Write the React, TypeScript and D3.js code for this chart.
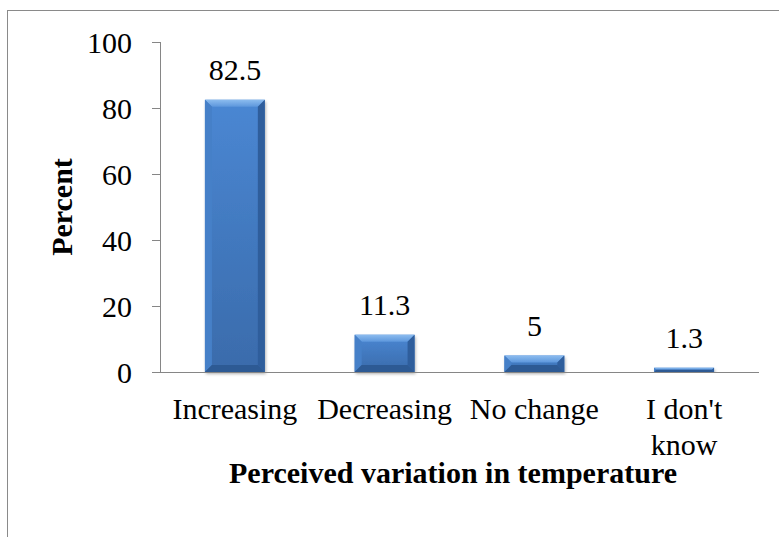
import { scaleBand, scaleLinear } from 'd3'

const categories = ['Increasing', 'Decreasing', 'No change', "I don't know"]
const categoryLines = [['Increasing'], ['Decreasing'], ['No change'], ["I don't", 'know']]
const percentValues = [82.5, 11.3, 5, 1.3]
const valueLabels = ['82.5', '11.3', '5', '1.3']
const yTicks = [0, 20, 40, 60, 80, 100]

const width = 779
const height = 537
const plot = { left: 160, right: 759, top: 42, bottom: 372 }
const fontFamily = "'Liberation Serif', 'Times New Roman', serif"
const axisColor = '#868686'
const textStyle = { fontFamily, fontSize: '30px', fontWeight: 400 }

export default function App() {
  const xScale = scaleBand<string>()
    .domain(categories)
    .range([plot.left, plot.right])
    .paddingInner(0.6)
    .paddingOuter(0.3)
  const yScale = scaleLinear().domain([0, 100]).range([plot.bottom, plot.top])
  const bandWidth = xScale.bandwidth()

  return (
    <svg
      width={width}
      height={height}
      viewBox={`0 0 ${width} ${height}`}
      style={{ position: 'absolute', left: 0, top: 0, background: '#fff' }}
    >
      <defs>
        <linearGradient id="barBody" x1="0" y1="0" x2="0" y2="1">
          <stop offset="0" stopColor="#4a87d3" />
          <stop offset="1" stopColor="#3a6bab" />
        </linearGradient>
        <linearGradient id="barTop" x1="0" y1="0" x2="0" y2="1">
          <stop offset="0" stopColor="#8cbcef" />
          <stop offset="1" stopColor="#5d97dc" />
        </linearGradient>
        <filter id="barShadow" x="-20%" y="-20%" width="140%" height="140%">
          <feDropShadow dx="1" dy="2" stdDeviation="1.5" floodColor="#000" floodOpacity="0.3" />
        </filter>
      </defs>

      <rect x={7.5} y={10.5} width={width + 20} height={height + 20} fill="none" stroke="#8a8a8a" strokeWidth={1} />

      {/* y axis */}
      <line x1={plot.left + 0.5} x2={plot.left + 0.5} y1={plot.top} y2={plot.bottom} stroke={axisColor} />
      {yTicks.map((tick) => (
        <g key={tick}>
          <line x1={plot.left - 8} x2={plot.left} y1={yScale(tick) + 0.5} y2={yScale(tick) + 0.5} stroke={axisColor} />
          <text x={plot.left - 28} y={yScale(tick)} dy="0.35em" textAnchor="end" style={textStyle} fill="#000">
            {tick}
          </text>
        </g>
      ))}

      {/* bars */}
      {categories.map((category, index) => {
        const x0 = xScale(category) ?? 0
        const x1 = x0 + bandWidth
        const y0 = yScale(percentValues[index])
        const y1 = yScale(0)
        const b = Math.min(7, (y1 - y0) / 2)
        return (
          <g key={category}>
            <rect x={x0} y={y0} width={bandWidth} height={y1 - y0} fill="url(#barBody)" filter="url(#barShadow)" />
            <polygon points={`${x0},${y0} ${x1},${y0} ${x1 - b},${y0 + b} ${x0 + b},${y0 + b}`} fill="url(#barTop)" />
            <polygon points={`${x0},${y0} ${x0 + b},${y0 + b} ${x0 + b},${y1 - b} ${x0},${y1}`} fill="#4680c8" />
            <polygon points={`${x1},${y0} ${x1 - b},${y0 + b} ${x1 - b},${y1 - b} ${x1},${y1}`} fill="#2f5e9c" />
            <polygon points={`${x0},${y1} ${x0 + b},${y1 - b} ${x1 - b},${y1 - b} ${x1},${y1}`} fill="#2d5a94" />
            <text x={x0 + bandWidth / 2} y={y0 - 20} textAnchor="middle" style={textStyle} fill="#000">
              {valueLabels[index]}
            </text>
          </g>
        )
      })}

      {/* x axis */}
      <line x1={plot.left - 8} x2={plot.right} y1={plot.bottom + 0.5} y2={plot.bottom + 0.5} stroke={axisColor} />
      {categories.map((category, index) => (
        <text
          key={category}
          x={(xScale(category) ?? 0) + bandWidth / 2}
          y={419}
          textAnchor="middle"
          style={textStyle}
          fill="#000"
        >
          {categoryLines[index].map((lineText, lineIndex) => (
            <tspan key={lineText} x={(xScale(category) ?? 0) + bandWidth / 2} dy={lineIndex === 0 ? 0 : 36}>
              {lineText}
            </tspan>
          ))}
        </text>
      ))}

      <text x={453} y={483} textAnchor="middle" style={{ ...textStyle, fontWeight: 700 }} fill="#000">
        Perceived variation in temperature
      </text>
      <text
        transform={`translate(72, ${(plot.top + plot.bottom) / 2}) rotate(-90)`}
        textAnchor="middle"
        style={{ ...textStyle, fontWeight: 700 }}
        fill="#000"
      >
        Percent
      </text>
    </svg>
  )
}
